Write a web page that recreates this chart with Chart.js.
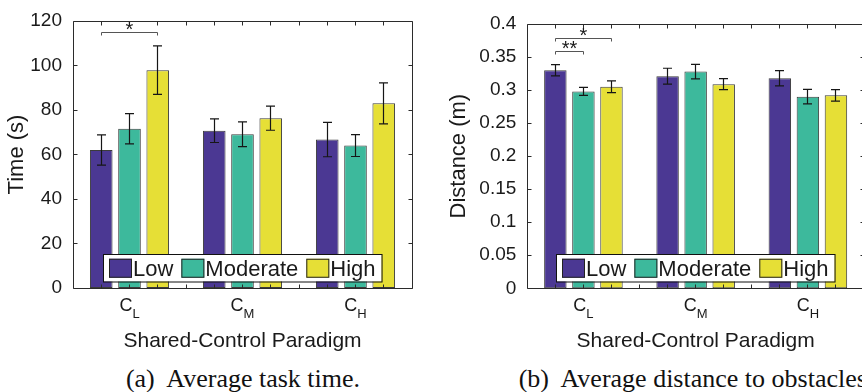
<!DOCTYPE html>
<html>
<head>
<meta charset="utf-8">
<script src="https://cdn.jsdelivr.net/npm/chart.js@4/dist/chart.umd.min.js"></script>
<style>
  html, body { margin: 0; padding: 0; background: #fff; overflow: hidden; width: 862px; height: 392px; position: relative; }
  canvas { position: absolute; top: 0; }
  #timeChart { left: 0; }
  #distChart { left: 431px; }
  .cap { position: absolute; top: 366px; width: 520px; text-align: center; white-space: pre;
         font: 26px/26px "Liberation Serif", "Times New Roman", serif; color: #111; }
</style>
</head>
<body>
<canvas id="timeChart" width="431" height="360"></canvas>
<canvas id="distChart" width="440" height="360"></canvas>
<div class="cap" style="left:-17px">(a)  Average task time.</div>
<div class="cap" style="left:436px">(b)  Average distance to obstacles.</div>
<script>
// Shared-control paradigms C_L, C_M, C_H (subscript letters) and assistance levels
const paradigmSubs = ['L', 'M', 'H'];
const levels = ['Low', 'Moderate', 'High'];
const levelColors = ['#4b3893', '#3db99c', '#e6df36'];

// Average task time (s), mean and standard error per level
const timeLow = [62.0, 70.7, 66.7];
const timeModerate = [71.6, 69.1, 64.0];
const timeHigh = [97.9, 76.3, 83.0];
const timeLowErr = [6.8, 5.3, 7.7];
const timeModerateErr = [6.8, 5.6, 4.9];
const timeHighErr = [10.9, 5.4, 9.2];
const timeTicks = [0, 20, 40, 60, 80, 100, 120];
// [paradigm, from level, to level, height, mark]
const timeBrackets = [[0, 0, 2, 115, '*']];

// Average distance to obstacles (m)
const distLow = [0.330, 0.321, 0.318];
const distModerate = [0.298, 0.328, 0.290];
const distHigh = [0.305, 0.309, 0.292];
const distLowErr = [0.0085, 0.012, 0.0115];
const distModerateErr = [0.006, 0.011, 0.011];
const distHighErr = [0.009, 0.0083, 0.0086];
const distTicks = [0, 0.05, 0.1, 0.15, 0.2, 0.25, 0.3, 0.35, 0.4];
const distBrackets = [[0, 0, 2, 0.378, '*'], [0, 0, 1, 0.3585, '**']];

const FAMILY = '"Liberation Sans", Arial, Helvetica, sans-serif';
const INK = '#1a1a1a';

function crisp(v) { return Math.floor(v) + 0.5; }

// Box-style axes with inward ticks, error bars, significance brackets,
// in-axes legend and subscripted category labels.
const boxAxesPlugin = {
  id: 'boxAxes',
  afterDatasetsDraw(chart, args, opts) {
    const { ctx, chartArea: a, scales: { x, y } } = chart;
    ctx.save();

    // error bars
    ctx.strokeStyle = '#161616';
    ctx.lineWidth = 1.2;
    chart.data.datasets.forEach((ds, i) => {
      const meta = chart.getDatasetMeta(i);
      meta.data.forEach((bar, j) => {
        const v = ds.data[j], e = ds.errors[j];
        const yt = y.getPixelForValue(v + e), yb = y.getPixelForValue(v - e);
        const cx = crisp(bar.x);
        ctx.beginPath();
        ctx.moveTo(cx, yt); ctx.lineTo(cx, yb);
        ctx.moveTo(cx - 4.5, yt); ctx.lineTo(cx + 4.5, yt);
        ctx.moveTo(cx - 4.5, yb); ctx.lineTo(cx + 4.5, yb);
        ctx.stroke();
      });
    });

    // frame
    ctx.strokeStyle = '#2b2b2b';
    ctx.lineWidth = 1;
    const L = crisp(a.left), R = crisp(a.right), T = crisp(a.top), B = crisp(a.bottom);
    ctx.beginPath();
    ctx.moveTo(L, T); ctx.lineTo(R, T); ctx.lineTo(R, B); ctx.lineTo(L, B); ctx.closePath();
    ctx.stroke();

    // inward ticks: x at every bar slot and gap, y at every tick value
    const tl = 4;
    ctx.beginPath();
    for (let s = 1; s <= 11; s++) {
      const px = crisp(x.getPixelForValue(s / 4 - 0.5));
      ctx.moveTo(px, T); ctx.lineTo(px, T + tl);
      ctx.moveTo(px, B); ctx.lineTo(px, B - tl);
    }
    y.ticks.forEach(t => {
      const py = crisp(y.getPixelForValue(t.value));
      ctx.moveTo(L, py); ctx.lineTo(L + tl, py);
      ctx.moveTo(R, py); ctx.lineTo(R - tl, py);
    });
    ctx.stroke();

    // significance brackets
    ctx.strokeStyle = '#555';
    ctx.fillStyle = INK;
    ctx.font = '20px ' + FAMILY;
    ctx.textAlign = 'center';
    ctx.textBaseline = 'alphabetic';
    (opts.brackets || []).forEach(([cat, from, to, h, mark]) => {
      const x1 = crisp(chart.getDatasetMeta(from).data[cat].x);
      const x2 = crisp(chart.getDatasetMeta(to).data[cat].x);
      const yy = crisp(y.getPixelForValue(h));
      ctx.beginPath();
      ctx.moveTo(x1, yy + 3); ctx.lineTo(x1, yy); ctx.lineTo(x2, yy); ctx.lineTo(x2, yy + 3);
      ctx.stroke();
      ctx.fillText(mark, (x1 + x2) / 2, yy + 3.5);
    });

    // legend inside the axes, centred near the bottom
    ctx.font = '22px ' + FAMILY;
    ctx.textAlign = 'left';
    const sw = 23, sh = 19, pad = 6, gapT = 1, gapN = 8, bh = 27.5;
    const tw = chart.data.datasets.map(ds => ctx.measureText(ds.label).width);
    let total = pad * 2;
    tw.forEach((w, i) => { total += sw + gapT + w + (i < tw.length - 1 ? gapN : 0); });
    const bx = Math.round((a.left + a.right) / 2 - total / 2);
    const by = Math.round(a.bottom - 7 - bh);
    ctx.fillStyle = '#fff';
    ctx.fillRect(bx, by, total, bh);
    ctx.strokeStyle = '#111';
    ctx.strokeRect(bx + 0.5, by + 0.5, total, bh);
    let cx = bx + pad;
    const cy = by + bh / 2 + 0.5;
    chart.data.datasets.forEach((ds, i) => {
      ctx.fillStyle = ds.backgroundColor;
      ctx.fillRect(cx, cy - sh / 2, sw, sh);
      ctx.strokeStyle = '#222';
      ctx.strokeRect(cx + 0.5, cy - sh / 2 + 0.5, sw - 1, sh - 1);
      ctx.fillStyle = INK;
      ctx.fillText(ds.label, cx + sw + gapT, cy + 7.8);
      cx += sw + gapT + tw[i] + gapN;
    });

    // category labels C with subscript
    ctx.fillStyle = INK;
    chart.data.labels.forEach((lab, i) => {
      const px = x.getPixelForValue(i);
      const main = lab.charAt(0), sub = lab.slice(1);
      ctx.font = '18px ' + FAMILY;
      const wm = ctx.measureText(main).width;
      ctx.font = '13px ' + FAMILY;
      const ws = ctx.measureText(sub).width;
      const start = px - (wm + ws) / 2;
      ctx.font = '18px ' + FAMILY;
      ctx.fillText(main, start, a.bottom + 23);
      ctx.font = '13px ' + FAMILY;
      ctx.fillText(sub, start + wm, a.bottom + 29.7);
    });

    ctx.restore();
  }
};

function makeChart(id, cfg) {
  const canvas = document.getElementById(id);
  const W = canvas.width, H = canvas.height;
  const box = cfg.box;
  return new Chart(canvas, {
    type: 'bar',
    data: {
      labels: paradigmSubs.map(s => 'C' + s),
      datasets: levels.map((name, i) => ({
        label: name,
        data: cfg.values[i],
        errors: cfg.errors[i],
        backgroundColor: levelColors[i],
        borderColor: 'rgba(25,25,25,0.85)',
        borderWidth: 1,
        borderSkipped: false,
        categoryPercentage: 0.75,
        barPercentage: 0.8
      }))
    },
    options: {
      responsive: false,
      animation: false,
      devicePixelRatio: 1,
      layout: { padding: { left: 0, top: box.top, right: W - box.right, bottom: 0 } },
      plugins: {
        legend: { display: false },
        tooltip: { enabled: false },
        boxAxes: { brackets: cfg.brackets }
      },
      scales: {
        x: {
          type: 'category',
          offset: true,
          grid: { display: false },
          border: { display: false },
          ticks: { display: false },
          title: {
            display: true, text: 'Shared-Control Paradigm', color: INK,
            font: { family: FAMILY, size: 21 }, padding: { top: 0, bottom: 6.4 }
          },
          afterFit: s => { s.height = H - box.bottom; }
        },
        y: {
          type: 'linear',
          min: 0,
          max: cfg.ticks[cfg.ticks.length - 1],
          grid: { display: false },
          border: { display: false },
          afterBuildTicks: s => { s.ticks = cfg.ticks.map(v => ({ value: v })); },
          ticks: {
            color: INK, padding: 3,
            font: { family: FAMILY, size: 19 },
            callback: v => String(+Number(v).toFixed(2))
          },
          title: {
            display: true, text: cfg.yTitle, color: INK,
            font: { family: FAMILY, size: 22 }, padding: { top: cfg.yTitlePad, bottom: 0 }
          },
          afterFit: s => { s.width = box.left; }
        }
      }
    },
    plugins: [boxAxesPlugin]
  });
}

makeChart('timeChart', {
  box: { left: 73, top: 21, right: 412, bottom: 288 },
  values: [timeLow, timeModerate, timeHigh],
  errors: [timeLowErr, timeModerateErr, timeHighErr],
  ticks: timeTicks,
  brackets: timeBrackets,
  yTitle: 'Time (s)',
  yTitlePad: 3.5
});

makeChart('distChart', {
  box: { left: 96.3, top: 24, right: 433, bottom: 288.3 },
  values: [distLow, distModerate, distHigh],
  errors: [distLowErr, distModerateErr, distHighErr],
  ticks: distTicks,
  brackets: distBrackets,
  yTitle: 'Distance (m)',
  yTitlePad: 15
});
</script>
</body>
</html>
